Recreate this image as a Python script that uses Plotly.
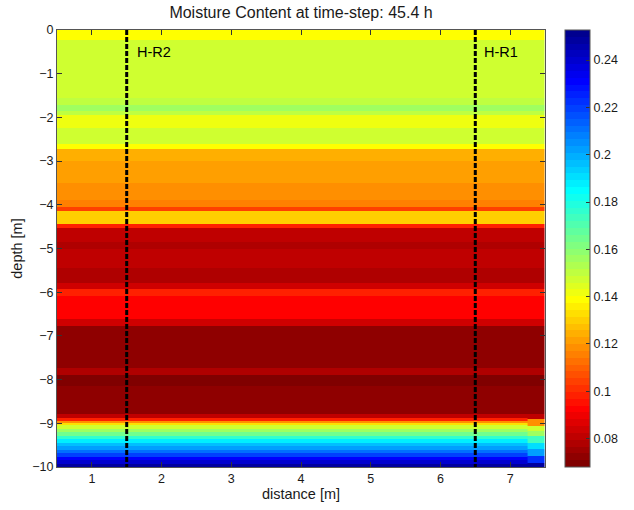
import numpy as np
import plotly.graph_objects as go

# Depth band edges [m] and moisture content per band, main section (x 0.5 - 7.25 m)
main_edges = [0, -0.23, -1.55, -1.72, -1.85, -1.95, -2.25, -2.62, -2.72, -3.0,
              -3.5, -3.9, -4.05, -4.15, -4.45, -4.52, -4.86, -5.0, -5.45, -5.8,
              -5.92, -6.08, -6.62, -6.77, -7.73, -7.9, -8.14, -8.78, -8.88, -8.95,
              -9.0, -9.05, -9.12, -9.2, -9.28, -9.36, -9.44, -9.52, -9.6, -9.68,
              -9.76, -9.84, -9.92, -10]
main_theta = [0.140, 0.147, 0.150, 0.156, 0.150, 0.142, 0.147, 0.138, 0.124,
              0.121, 0.119, 0.115, 0.104, 0.129, 0.098, 0.082, 0.079, 0.082,
              0.079, 0.083, 0.097, 0.093, 0.085, 0.073, 0.079, 0.069, 0.073,
              0.081, 0.097, 0.119, 0.134, 0.147, 0.157, 0.166, 0.177, 0.188,
              0.195, 0.202, 0.210, 0.219, 0.230, 0.241, 0.249]

# Right edge column (x 7.25 - 7.5 m): same as main down to -8.78 m, then its own bands
edge_bottom_edges = [-8.78, -8.9, -9.06, -9.17, -9.29, -9.45, -9.59, -9.75, -9.9, -10]
edge_bottom_theta = [0.081, 0.119, 0.147, 0.157, 0.172, 0.190, 0.202, 0.222, 0.247]

x_main = [0.5, 7.25]
x_edge = [7.25, 7.5]

# Borehole positions and names
bh_x = [1.5, 6.5]
bh_names = ["H-R2", "H-R1"]
bh_label_x = [1.66, 6.64]

x_ticks = [1, 2, 3, 4, 5, 6, 7]
y_ticks = [0, -1, -2, -3, -4, -5, -6, -7, -8, -9, -10]
cbar_ticks = [0.08, 0.1, 0.12, 0.14, 0.16, 0.18, 0.2, 0.22, 0.24]
c_min, c_max = 0.068, 0.2527

# Right-column profile built from the main bands above -8.78 m
cut = main_edges.index(-8.78)
edge_edges = main_edges[:cut] + edge_bottom_edges
edge_theta = main_theta[:cut] + edge_bottom_theta


def jet(m=64):
    """MATLAB-style jet colormap with m levels."""
    n = int(np.ceil(m / 4))
    u = np.concatenate([np.arange(1, n + 1) / n, np.ones(n - 1), np.arange(n, 0, -1) / n])
    g = int(np.ceil(n / 2)) - (1 if m % 4 == 1 else 0) + np.arange(1, len(u) + 1)
    r = g + n
    b = g - n
    J = np.zeros((m, 3))
    J[r[r <= m] - 1, 0] = u[r <= m]
    J[g[g <= m] - 1, 1] = u[g <= m]
    J[b[b >= 1] - 1, 2] = u[len(u) - np.sum(b >= 1):]
    return J


cmap = jet(64)[::-1]  # flipped: low values dark red, high values dark blue
levels = len(cmap)
colorscale = []
for i, c in enumerate(cmap):
    col = "rgb(%d,%d,%d)" % tuple(np.round(c * 255).astype(int))
    colorscale.append([i / levels, col])
    colorscale.append([(i + 1) / levels, col])

fig = go.Figure()
fig.add_trace(go.Heatmap(
    x=x_main, y=main_edges, z=[[v] for v in main_theta],
    coloraxis="coloraxis", zsmooth=False, hoverinfo="skip"))
fig.add_trace(go.Heatmap(
    x=x_edge, y=edge_edges, z=[[v] for v in edge_theta],
    coloraxis="coloraxis", zsmooth=False, hoverinfo="skip"))

for bx in bh_x:
    fig.add_trace(go.Scatter(
        x=[bx, bx], y=[0, -10], mode="lines",
        line=dict(color="black", width=3, dash="5px,2px"),
        showlegend=False, hoverinfo="skip"))

for name, lx in zip(bh_names, bh_label_x):
    fig.add_annotation(x=lx, y=-0.5, text=name, showarrow=False,
                       xanchor="left", yanchor="middle", xshift=-3,
                       font=dict(size=14.5, color="black"))

font = dict(family="Liberation Sans, Arial, sans-serif", size=12.5, color="#1a1a1a")

fig.update_layout(
    width=634, height=510,
    margin=dict(l=57, r=89, t=30, b=43, autoexpand=False),
    paper_bgcolor="white", plot_bgcolor="white",
    font=font,
    title=dict(text="Moisture Content at time-step: 45.4 h", x=0.5, xanchor="center",
               xref="paper", y=0.976, yanchor="middle",
               font=dict(size=16, color="#1a1a1a")),
    showlegend=False,
    coloraxis=dict(
        cmin=c_min, cmax=c_max, colorscale=colorscale,
        colorbar=dict(
            x=1.041, xanchor="left", xpad=0, ypad=0, y=0.5, yanchor="middle",
            len=1, lenmode="fraction", thickness=25, thicknessmode="pixels",
            tickvals=cbar_ticks, ticktext=[f"{t:g}" for t in cbar_ticks],
            ticks="inside", ticklen=4, tickcolor="#333",
            outlinecolor="#555", outlinewidth=1,
            tickfont=dict(size=12.5, color="#1a1a1a"))),
    xaxis=dict(
        range=[0.5, 7.5], tickvals=x_ticks, ticks="inside", ticklen=5,
        tickcolor="#333", showline=True, linecolor="#555", linewidth=1,
        mirror="ticks", showgrid=False, zeroline=False,
        title=dict(text="distance [m]", standoff=2, font=dict(size=14.5))),
    yaxis=dict(
        range=[-10, 0], tickvals=y_ticks, ticks="inside", ticklen=5,
        tickcolor="#333", showline=True, linecolor="#555", linewidth=1,
        mirror="ticks", showgrid=False, zeroline=False,
        title=dict(text="depth [m]", standoff=6, font=dict(size=14.5))),
)

fig.write_html("out.html")
